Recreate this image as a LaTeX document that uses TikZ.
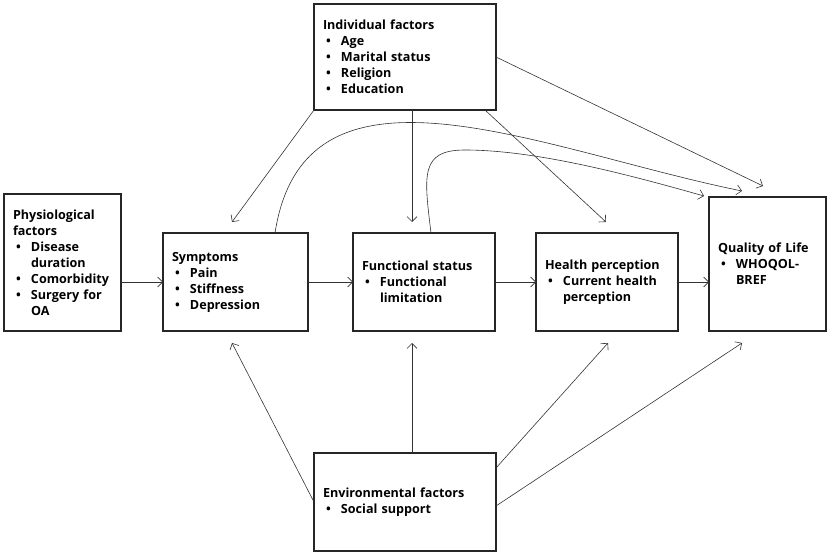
\documentclass[tikz,border=0pt]{standalone}
\usepackage{fontspec}
\setmainfont{Open Sans}
\usepackage{tikz}
\usetikzlibrary{arrows.meta,positioning}

\newcommand{\itm}{\makebox[18pt][l]{\hspace{3pt}\textbullet}}
\newcommand{\itmgap}{\hspace*{18pt}}

\begin{document}
\begin{tikzpicture}[
    x=1pt,y=-1pt,
    node distance=42pt,
    factor/.style={draw=black!85,line width=2.2pt,outer sep=0pt,inner xsep=9pt,inner ysep=0pt,
                   align=left,font=\bfseries\fontsize{12.6}{16}\selectfont},
    arr/.style={draw=black!80,line width=0.6pt,-{Straight Barb[length=5pt,width=10pt]}}
  ]
  \useasboundingbox (0,0) rectangle (831,559);

  \node[factor,text width=99pt,minimum height=137pt,anchor=south west] (phys) at (4,331)
        {Physiological\\factors\\\itm Disease\\\itmgap duration\\\itm Comorbidity\\\itm Surgery for\\\itmgap OA};
  \node[factor,text width=127pt,minimum height=98pt,right=42pt of phys.south east,anchor=south west] (sym)
        {Symptoms\\\itm Pain\\\itm Stiffness\\\itm Depression};
  \node[factor,text width=124pt,minimum height=98pt,right=45pt of sym.south east,anchor=south west] (func)
        {Functional status\\\itm Functional\\\itmgap limitation};
  \node[factor,text width=124pt,minimum height=98pt,right=41pt of func.south east,anchor=south west] (hp)
        {Health perception\\\itm Current health\\\itmgap perception};
  \node[factor,text width=99pt,minimum height=134pt,right=31pt of hp.south east,anchor=south west] (qol)
        {Quality of Life\\\itm WHOQOL-\\\itmgap BREF};

  \node[factor,text width=164pt,minimum height=106pt,anchor=north west] (ind) at (314,4)
        {Individual factors\\\itm Age\\\itm Marital status\\\itm Religion\\\itm Education};
  \node[factor,text width=164pt,minimum height=98pt,anchor=north west] (env) at (314,453)
        {Environmental factors\\\itm Social support};

  \coordinate (ts) at (232,222);
  \coordinate (tf) at (412,222);
  \coordinate (th) at (606,222);
  \coordinate (tq) at (763,186);
  \coordinate (tc1) at (742,191);
  \coordinate (tc2) at (704,196);
  \coordinate (bs) at (232,343);
  \coordinate (bf) at (412,343);
  \coordinate (bh) at (608,343);
  \coordinate (bq) at (742,343);

  \draw[arr] (phys.east |- sym.west) -- (sym.west);
  \draw[arr] (sym) -- (func);
  \draw[arr] (func) -- (hp);
  \draw[arr] (hp.east) -- (qol.west |- hp.east);
  \draw[arr] (ind.south west) -- (ts);
  \draw[arr] (ind.south -| tf) -- (tf);
  \draw[arr] ([xshift=-11pt]ind.south east) -- (th);
  \draw[arr] (ind.east) -- (tq);
  \draw[arr] ([xshift=39.5pt]sym.north) .. controls (305,40) and (540,150) .. (tc1);
  \draw[arr] ([xshift=7pt]func.north) .. controls (424,175) and (420,150) .. (465,150)
             .. controls (540,150) and (640,178) .. (tc2);
  \draw[arr] (env.west) -- (bs);
  \draw[arr] (env.north -| bf) -- (bf);
  \draw[arr] ([yshift=34pt]env.east) -- (bh);
  \draw[arr] ([yshift=-4pt]env.east) -- (bq);
\end{tikzpicture}
\end{document}
